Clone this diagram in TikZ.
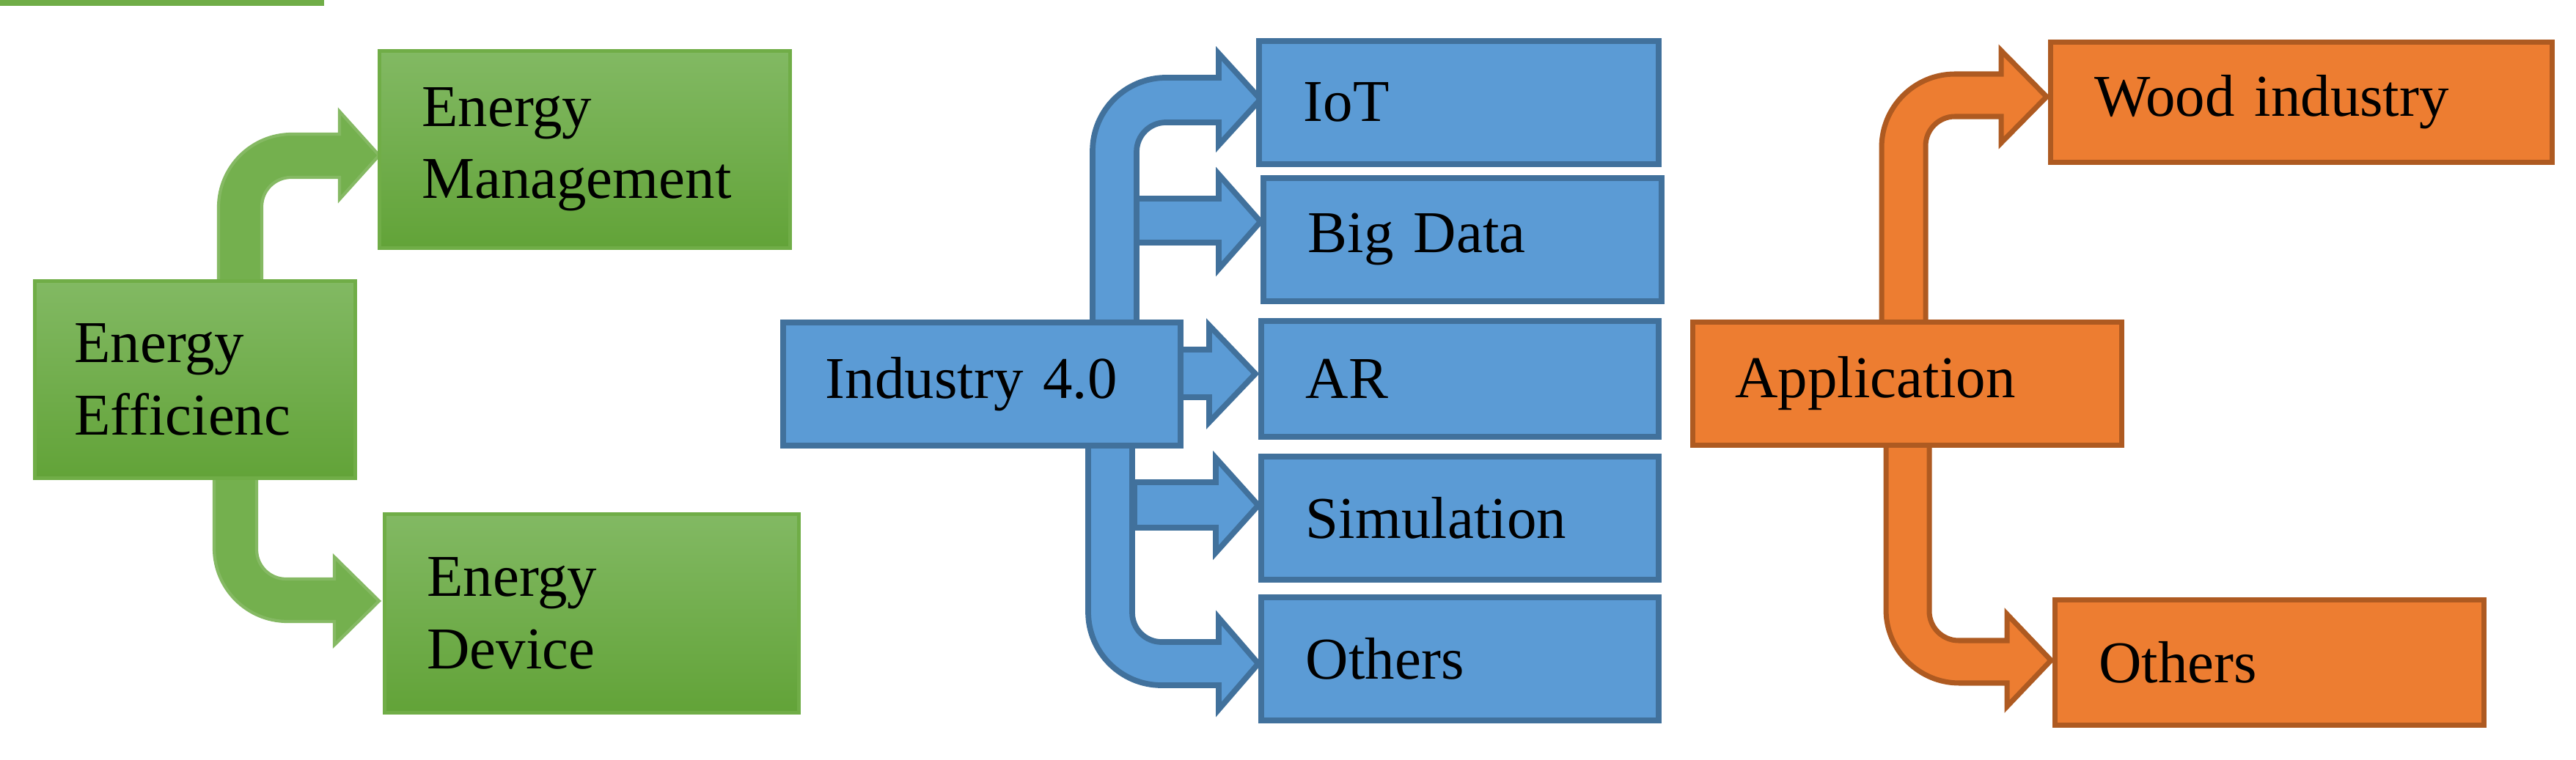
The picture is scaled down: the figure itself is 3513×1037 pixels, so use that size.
\documentclass[tikz,border=0pt]{standalone}
\usepackage{fontspec}
\setmainfont{Liberation Serif}
\definecolor{gtop}{HTML}{82B963}
\definecolor{gbot}{HTML}{62A338}
\definecolor{gline}{HTML}{70AD47}
\definecolor{gfill}{HTML}{74B04E}
\definecolor{bfill}{HTML}{5B9BD5}
\definecolor{bline}{HTML}{41719C}
\definecolor{ofill}{HTML}{ED7D31}
\definecolor{oline}{HTML}{AE5A21}
\newcommand\upbend[9]{(#1,#3) -- (#1,#4+100) arc[start angle=180,end angle=270,radius=100] -- (#6,#4) -- (#6,#8) -- (#7,{(#8+#9)/2}) -- (#6,#9) -- (#6,#5) -- (#2+40,#5) arc[start angle=270,end angle=180,radius=40] -- (#2,#3) -- cycle}
\newcommand\downbend[9]{(#1,#3) -- (#1,#4-100) arc[start angle=180,end angle=90,radius=100] -- (#6,#4) -- (#6,#8) -- (#7,{(#8+#9)/2}) -- (#6,#9) -- (#6,#5) -- (#2+40,#5) arc[start angle=90,end angle=180,radius=40] -- (#2,#3) -- cycle}
\newcommand\straight[7]{(#1,#2) -- (#4,#2) -- (#4,#6) -- (#5,{(#6+#7)/2}) -- (#4,#7) -- (#4,#3) -- (#1,#3) -- cycle}
\begin{document}
\begin{tikzpicture}[x=0.01cm,y=-0.01cm,
  txt/.style={font=\fontsize{23}{28}\selectfont,align=left,anchor=north west,inner ysep=0pt},
  gbox/.style={txt,draw=gline,line width=1.3pt,top color=gtop,bottom color=gbot},
  bbox/.style={txt,draw=bline,line width=2.2pt,fill=bfill},
  obox/.style={txt,draw=oline,line width=2pt,fill=ofill},
  garrow/.style={fill=gfill,draw=gline!85!white,line width=1.2pt,line join=miter},
  barrow/.style={fill=bfill,draw=bline,line width=2.2pt,line join=miter},
  oarrow/.style={fill=ofill,draw=oline,line width=2pt,line join=miter}]
\useasboundingbox (0,0) rectangle (3513,1037);
% arrows
\draw[garrow] \upbend{298}{357}{385}{183}{242}{463}{517}{152}{272};
\draw[garrow] \downbend{292}{350}{645}{848}{790}{456}{517}{880}{760};
\draw[barrow] \upbend{1490}{1550}{440}{106}{167}{1662}{1719}{73}{198};
\draw[barrow] \downbend{1484}{1544}{600}{935}{876}{1662}{1716}{968}{843};
\draw[barrow] \straight{1550}{271}{331}{1662}{1719}{238}{367};
\draw[barrow] \straight{1600}{477}{542}{1649}{1712}{444}{576};
\draw[barrow] \straight{1547}{658}{720}{1658}{1716}{625}{754};
\draw[oarrow] \upbend{2566}{2626}{440}{101}{159}{2729}{2791}{69}{195};
\draw[oarrow] \downbend{2572}{2631}{600}{932}{874}{2737}{2797}{964}{838};
% boxes
\node[gbox,minimum width=437\pgflinewidth/\pgflinewidth*0.01cm] at (0,0) {};
\node[gbox,text width=329*0.01cm,inner xsep=54*0.01cm,minimum height=269*0.01cm] (ee) at (45,381) {Energy\\Efficienc};
\node[gbox,text width=444*0.01cm,inner xsep=58*0.01cm,minimum height=269*0.01cm] (em) at (515,67) {Energy\\Management};
\node[gbox,text width=449*0.01cm,inner xsep=58*0.01cm,minimum height=271*0.01cm] (ed) at (522,699) {Energy\\Device};
\node[bbox,text width=426*0.01cm,inner xsep=58*0.01cm,minimum height=168*0.01cm] (ind) at (1064,436) {Industry 4.0};
\node[bbox,text width=423*0.01cm,inner xsep=61*0.01cm,minimum height=168*0.01cm] (iot) at (1713,52) {IoT};
\node[bbox,text width=421*0.01cm,inner xsep=61*0.01cm,minimum height=168*0.01cm] (bd) at (1719,239) {Big Data};
\node[bbox,text width=420*0.01cm,inner xsep=61*0.01cm,minimum height=158*0.01cm] (ar) at (1716,434) {AR};
\node[bbox,text width=420*0.01cm,inner xsep=61*0.01cm,minimum height=168*0.01cm] (sim) at (1716,619) {Simulation};
\node[bbox,text width=420*0.01cm,inner xsep=61*0.01cm,minimum height=168*0.01cm] (oth) at (1716,811) {Others};
\node[obox,text width=469*0.01cm,inner xsep=58*0.01cm,minimum height=168*0.01cm] (app) at (2305,436) {Application};
\node[obox,text width=564*0.01cm,inner xsep=60*0.01cm,minimum height=164*0.01cm] (wood) at (2793,54) {Wood industry};
\node[obox,text width=465*0.01cm,inner xsep=60*0.01cm,minimum height=171*0.01cm] (oth2) at (2799,815) {Others};
\end{tikzpicture}
\end{document}
